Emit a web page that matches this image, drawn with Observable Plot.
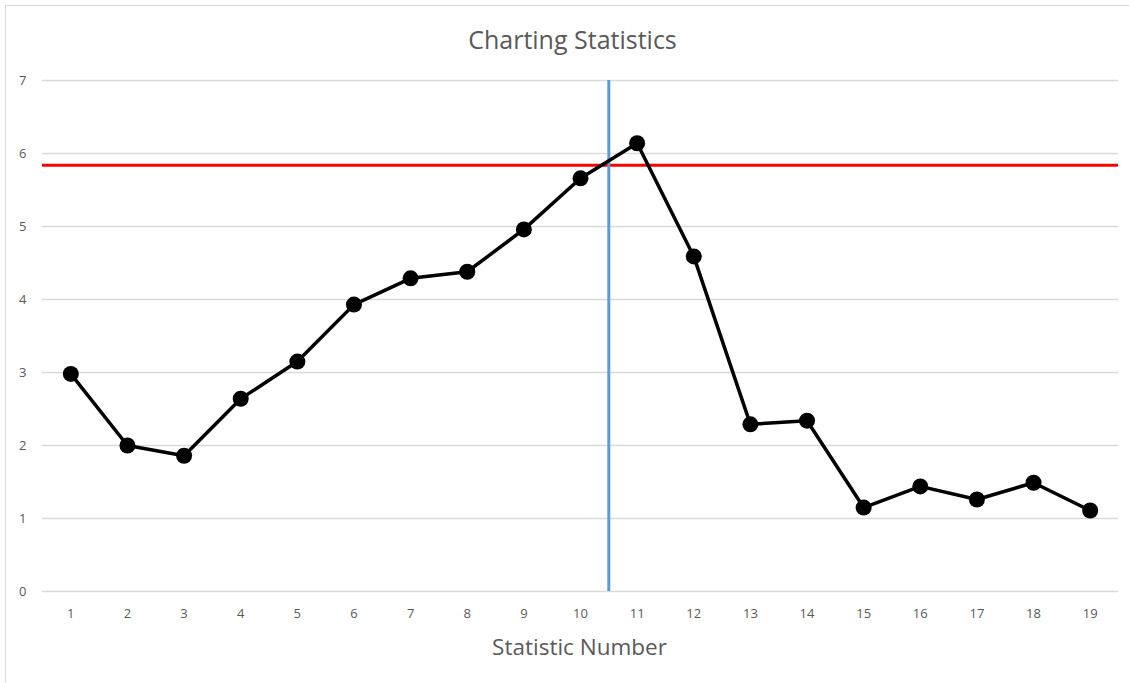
<!DOCTYPE html>
<html>
<head>
<meta charset="utf-8">
<script src="https://cdn.jsdelivr.net/npm/d3@7"></script>
<script src="https://cdn.jsdelivr.net/npm/@observablehq/plot@0.6"></script>
<style>
  html, body { margin: 0; padding: 0; background: #fff; }
  #frame { position: absolute; left: 5px; top: 5px; width: 1130px; height: 690px;
           border-left: 1px solid #d9d9d9; border-top: 1px solid #d9d9d9; box-sizing: border-box; }
  #title { position: absolute; left: 0; top: 22px; width: 1145px; text-align: center;
           font-family: "Open Sans", sans-serif; font-size: 25px; color: #595959; line-height: 34px; }
  #xlabel { position: absolute; left: 0; top: 632px; width: 1159px; text-align: center;
           font-family: "Open Sans", sans-serif; font-size: 22.5px; color: #595959; line-height: 30px; }
  #chart { position: absolute; left: 0; top: 70px; }
  #chart svg { font-family: "Open Sans", sans-serif; }
</style>
</head>
<body>
<div id="frame"></div>
<div id="title">Charting Statistics</div>
<div id="chart"></div>
<div id="xlabel">Statistic Number</div>
<script>
const statNumbers = [1,2,3,4,5,6,7,8,9,10,11,12,13,14,15,16,17,18,19];
const statValues = [2.98,2.0,1.86,2.64,3.15,3.93,4.29,4.38,4.96,5.66,6.14,4.59,2.29,2.34,1.15,1.44,1.26,1.49,1.11];
const yTicks = [0,1,2,3,4,5,6,7];
const limitValue = 5.84;
const splitPoint = 10.5;

const data = statNumbers.map((n, i) => ({n, v: statValues[i]}));

const chart = Plot.plot({
  width: 1129,
  height: 613,
  marginLeft: 42,
  marginRight: 11,
  marginTop: 10,
  marginBottom: 92,
  style: {background: "transparent", color: "#595959", fontSize: "13px"},
  x: {domain: [0.5, 19.5], ticks: statNumbers, tickSize: 0, tickPadding: 17, label: null, tickFormat: d => String(d)},
  y: {domain: [0, 7], ticks: yTicks, tickSize: 0, tickPadding: 16, label: null, tickFormat: d => String(d)},
  marks: [
    Plot.ruleY(yTicks, {stroke: "#d9d9d9", strokeWidth: 1.3, strokeOpacity: 1}),
    Plot.ruleY([limitValue], {stroke: "#ff0000", strokeWidth: 3}),
    Plot.ruleX([splitPoint], {stroke: "#5b9bd5", strokeWidth: 3}),
    Plot.line(data, {x: "n", y: "v", stroke: "#000", strokeWidth: 3.5, strokeLinejoin: "round"}),
    Plot.dot(data, {x: "n", y: "v", r: 8, fill: "#000", stroke: "none"})
  ]
});
document.getElementById("chart").appendChild(chart);
</script>
</body>
</html>
